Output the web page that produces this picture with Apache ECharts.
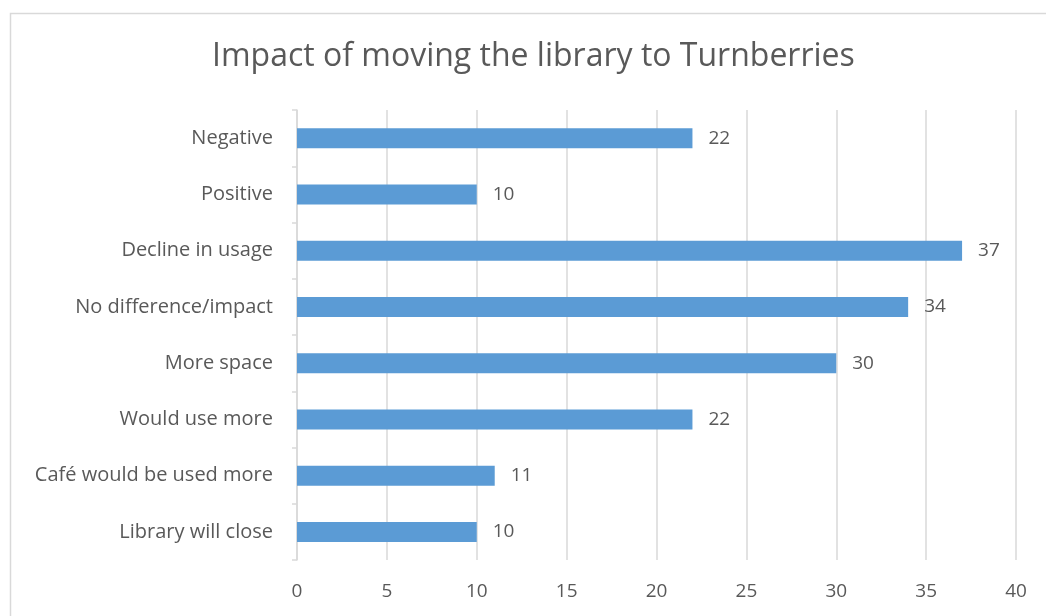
<!DOCTYPE html>
<html>
<head>
<meta charset="utf-8">
<script src="https://cdn.jsdelivr.net/npm/echarts@6/dist/echarts.min.js"></script>
<style>
html, body { margin: 0; padding: 0; background: #fff; }
#chart { width: 1046px; height: 616px; }
</style>
</head>
<body>
<div id="chart"></div>
<script>
// categories listed bottom to top (category axis starts at the bottom)
var categories = ['Library will close', 'Café would be used more', 'Would use more', 'More space',
	'No difference/impact', 'Decline in usage', 'Positive', 'Negative'];
var counts = [10, 11, 22, 30, 34, 37, 10, 22];
var xTicks = [0, 40, 5]; // min, max, interval

var chart = echarts.init(document.getElementById('chart'));
var textColor = '#595959';
var font = 'Open Sans';

var option = {
	backgroundColor: '#fff',
	animation: false,
	graphic: [
		{
			type: 'rect',
			left: 8, top: 11,
			shape: { width: 1100, height: 700 },
			style: { fill: 'none', stroke: '#d9d9d9', lineWidth: 1.5 }
		}
	],
	title: {
		text: 'Impact of moving the library to Turnberries',
		left: 207,
		top: 36,
		textStyle: { fontFamily: font, fontSize: 32, fontWeight: 'normal', color: textColor }
	},
	grid: { left: 297, right: 30, top: 110, bottom: 56 },
	xAxis: {
		type: 'value',
		min: xTicks[0],
		max: xTicks[1],
		interval: xTicks[2],
		axisLine: { show: false },
		axisTick: { show: false },
		axisLabel: { fontFamily: font, fontSize: 19, color: textColor, margin: 22 },
		splitLine: { lineStyle: { color: '#d9d9d9', width: 1.5 } }
	},
	yAxis: {
		type: 'category',
		data: categories,
		axisLine: { lineStyle: { color: '#d9d9d9', width: 1.5 } },
		axisTick: { show: true, length: 5, lineStyle: { color: '#d9d9d9', width: 1.5 } },
		axisLabel: { fontFamily: font, fontSize: 20, color: textColor, margin: 24 }
	},
	series: [
		{
			type: 'bar',
			data: counts,
			barWidth: 20,
			itemStyle: { color: '#5b9bd5' },
			label: {
				show: true,
				position: 'right',
				distance: 16,
				fontFamily: font,
				fontSize: 19,
				color: textColor
			}
		}
	]
};

chart.setOption(option);
</script>
</body>
</html>
